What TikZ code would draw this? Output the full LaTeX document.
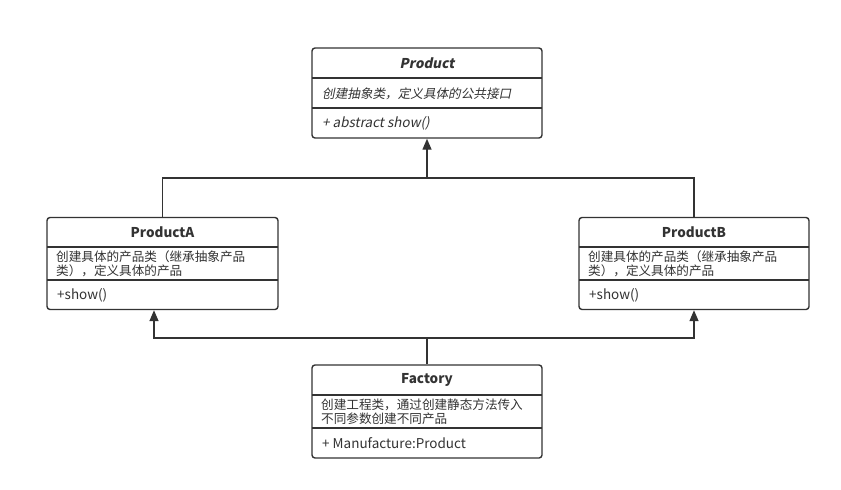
\documentclass[tikz,border=0pt]{standalone}
\usepackage{fontspec}
\setmainfont{Noto Sans CJK SC}
\newfontfamily\cjkit[FakeSlant=0.2]{Noto Sans CJK SC}
\usetikzlibrary{arrows.meta}
\definecolor{ln}{HTML}{333333}
\tikzset{
  umlbox/.style={draw=ln, line width=1.4pt, rounded corners=3pt, fill=white, inner sep=0pt},
  divider/.style={draw=ln, line width=1.4pt},
  conn/.style={draw=ln, line width=1.4pt},
  inh/.style={conn, -{Triangle[length=11pt,width=9pt]}},
  ttl/.style={font=\fontsize{13.5}{14}\selectfont\bfseries, text=ln, inner sep=0pt},
  txt/.style={font=\fontsize{12.6}{14.2}\selectfont, text=ln, inner sep=0pt, anchor=west, align=left},
  mth/.style={font=\fontsize{13.5}{14.5}\selectfont, text=ln, inner sep=0pt, anchor=west, align=left},
}
\begin{document}
\begin{tikzpicture}[x=1pt,y=-1pt]
\useasboundingbox (0,0) rectangle (841,490);
% Product
\node[umlbox, minimum width=230pt, minimum height=90pt] (product) at (427,93) {};
\draw[divider] (312,78) -- (542,78);
\draw[divider] (312,108) -- (542,108);
\node[ttl] (productT) at (427,63) {\cjkit\bfseries Product};
\node[txt] (productD) at (322,94) {\cjkit 创建抽象类，定义具体的公共接口};
\node[mth] (productM) at (322,123) {\cjkit + abstract show()};
% ProductA
\node[umlbox, minimum width=231pt, minimum height=92pt] (pa) at (162.5,263.5) {};
\draw[divider] (47,247) -- (278,247);
\draw[divider] (47,280) -- (278,280);
\node[ttl] (paT) at (162.5,232) {ProductA};
\node[txt] (paD) at (56,264) {创建具体的产品类（继承抽象产品\\类），定义具体的产品};
\node[mth] (paM) at (57,295) {+show()};
% ProductB
\node[umlbox, minimum width=230pt, minimum height=92pt] (pb) at (694,263.5) {};
\draw[divider] (579,247) -- (809,247);
\draw[divider] (579,280) -- (809,280);
\node[ttl] (pbT) at (694,232) {ProductB};
\node[txt] (pbD) at (588,264) {创建具体的产品类（继承抽象产品\\类），定义具体的产品};
\node[mth] (pbM) at (589,295) {+show()};
% Factory
\node[umlbox, minimum width=230pt, minimum height=93pt] (fac) at (427,411.5) {};
\draw[divider] (312,395) -- (542,395);
\draw[divider] (312,428) -- (542,428);
\node[ttl] (facT) at (427,380) {Factory};
\node[txt] (facD) at (321,412) {创建工程类，通过创建静态方法传入\\不同参数创建不同产品};
\node[mth] (facM) at (322,443) {+ Manufacture:Product};
% connectors
\coordinate (j1) at (427,178);
\coordinate (j2) at (427,338);
\draw[conn] (pa.north) |- (j1);
\draw[conn] (pb.north) |- (j1);
\draw[inh] (j1) -- (product.south);
\draw[conn] (fac.north) -- (j2);
\draw[inh] (j2) -| ([xshift=-8.5pt]pa.south);
\draw[inh] (j2) -| (pb.south);
\end{tikzpicture}
\end{document}
